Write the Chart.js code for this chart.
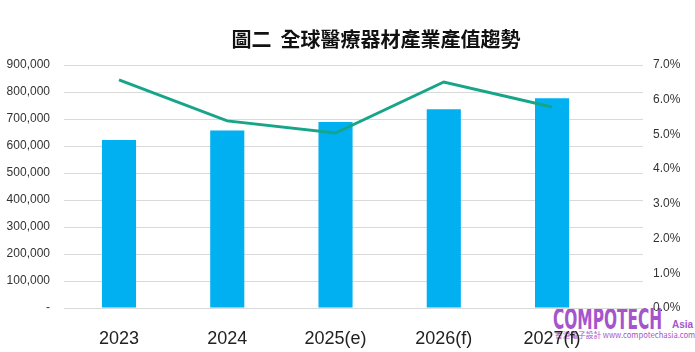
<!DOCTYPE html>
<html>
<head>
<meta charset="utf-8">
<script src="https://cdn.jsdelivr.net/npm/chart.js@4"></script>
<style>
  html, body { margin: 0; padding: 0; background: #fff; }
  #wrap { position: relative; width: 695px; height: 352px; overflow: hidden; }
  #chart { position: absolute; left: 0; top: 0; z-index: 1; }
  #title {
    position: absolute; left: 0; top: 24px; width: 752px; text-align: center;
    font: bold 20px 'Noto Sans CJK TC', sans-serif; color: #111; z-index: 2;
  }
  .mk { position: absolute; z-index: 0; color: #a654cc; white-space: nowrap; transform-origin: left top; line-height: 1; }
  #mk1 { left: 553px; top: 303px; font: bold 28px 'DejaVu Sans Condensed', 'DejaVu Sans', sans-serif; transform: scaleX(0.61); }
  #mk2 { left: 672px; top: 319px; font: bold 10px 'Liberation Sans', sans-serif; }
  #mk3 { left: 555px; top: 329px; font: 8px 'Noto Sans CJK TC', sans-serif; transform: scaleX(0.96); }
</style>
</head>
<body>
<div id="wrap">
  <div id="title">圖二&nbsp;&nbsp;全球醫療器材產業產值趨勢</div>
  <div class="mk" id="mk1">COMPOTECH</div>
  <div class="mk" id="mk2">Asia</div>
  <div class="mk" id="mk3">香港電子設計 www.compotechasia.com</div>
  <canvas id="chart" width="695" height="352"></canvas>
</div>
<script>
// === Duomenys ===
const categories = ['2023', '2024', '2025(e)', '2026(f)', '2027(f)'];
const marketValue = [622000, 657000, 689000, 736000, 777000];
const growthRate = [6.57, 5.39, 5.04, 6.51, 5.79];   // %
const leftTicks = [0, 100000, 200000, 300000, 400000, 500000, 600000, 700000, 800000, 900000];
const rightTicks = [0, 1, 2, 3, 4, 5, 6, 7];

const axisFont = { family: 'Liberation Sans', size: 12 };

new Chart(document.getElementById('chart'), {
    data: {
        datasets: [
            {
                type: 'line',
                data: growthRate.map((v, i) => ({ x: i, y: v })),
                yAxisID: 'y1',
                borderColor: '#17a58a',
                borderWidth: 3,
                pointRadius: 0,
                tension: 0,
                order: 0
            },
            {
                type: 'bar',
                data: marketValue.map((v, i) => ({ x: i, y: v })),
                yAxisID: 'y',
                backgroundColor: '#00b0f0',
                categoryPercentage: 1,
                barPercentage: 0.315,
                order: 1
            }
        ]
    },
    options: {
        responsive: false,
        animation: false,
        layout: { padding: { top: 65, left: 0, right: 0, bottom: 0 } },
        plugins: { legend: { display: false }, tooltip: { enabled: false } },
        scales: {
            x: {
                type: 'linear',
                offset: false,
                min: -0.508,
                max: 4.84,
                grid: { display: false },
                border: { display: false },
                afterBuildTicks: s => { s.ticks = categories.map((c, i) => ({ value: i })); },
                afterFit: s => { s.height = 44; },
                ticks: {
                    callback: v => categories[v],
                    font: { family: 'Liberation Sans', size: 18 },
                    color: '#222',
                    padding: 12,
                    maxRotation: 0,
                    autoSkip: false
                }
            },
            y: {
                position: 'left',
                min: 0,
                max: 900000,
                afterBuildTicks: s => { s.ticks = leftTicks.map(v => ({ value: v })); },
                afterFit: s => { s.width = 64; },
                grid: { color: '#d9d9d9', lineWidth: 1, drawTicks: false },
                border: { display: false },
                ticks: {
                    callback: v => v === 0 ? '-' : v.toLocaleString('en-US'),
                    font: axisFont,
                    color: '#333',
                    padding: 14
                }
            },
            y1: {
                position: 'right',
                min: 0,
                max: 7,
                afterBuildTicks: s => { s.ticks = rightTicks.map(v => ({ value: v })); },
                afterFit: s => { s.width = 52; },
                grid: { display: false, drawTicks: false },
                border: { display: false },
                ticks: {
                    callback: v => v.toFixed(1) + '%',
                    font: axisFont,
                    color: '#333',
                    padding: 10
                }
            }
        }
    }
});
</script>
</body>
</html>
